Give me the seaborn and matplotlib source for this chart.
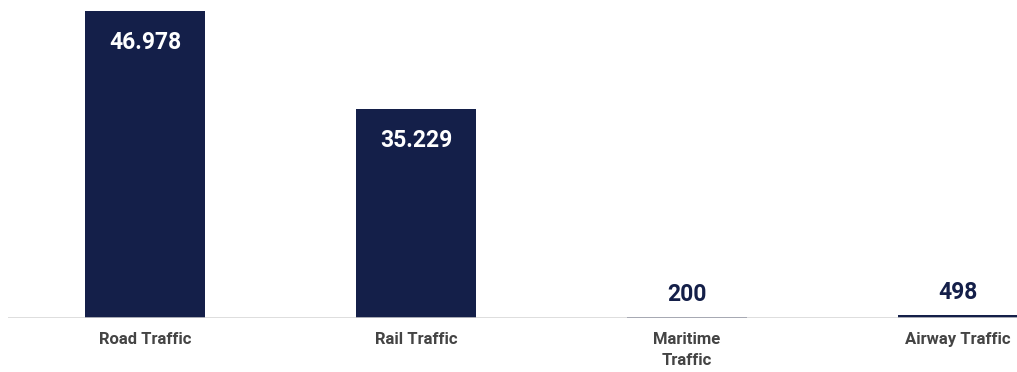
import matplotlib
matplotlib.use("Agg")
import matplotlib.pyplot as plt
import seaborn as sns
import pandas as pd

categories = ["Road Traffic", "Rail Traffic", "Maritime\nTraffic", "Airway Traffic"]
bar_heights = [46978, 32000, 200, 498]
value_labels = ["46.978", "35.229", "200", "498"]

NAVY = "#141f49"
GRAY_TEXT = "#444444"

sns.set_theme(style="white")
plt.rcParams["font.family"] = ["Roboto", "DejaVu Sans"]

df = pd.DataFrame({"cat": categories, "val": bar_heights})

fig = plt.figure(figsize=(10.17, 3.72), dpi=100)
ax = fig.add_axes([8 / 1017, 54 / 372, 1009 / 1017, 318 / 372])
ax.axhline(0, color="#d4d4d4", linewidth=1.1, zorder=3)
sns.barplot(data=df, x="cat", y="val", color=NAVY, saturation=1, width=0.443,
            linewidth=0, ax=ax, zorder=2)

ax.set_xlim(-0.506, 3.218)
ax.set_ylim(0, 48660)
for s in ["top", "right", "left", "bottom"]:
    ax.spines[s].set_visible(False)
ax.set_yticks([])
ax.set_xlabel("")
ax.set_ylabel("")
ax.tick_params(axis="x", length=0, pad=10)
for lbl in ax.get_xticklabels():
    lbl.set_fontweight("bold")
    lbl.set_fontsize(12)
    lbl.set_color(GRAY_TEXT)
    lbl.set_verticalalignment("top")
    lbl.set_linespacing(1.55)

for i, (h, t) in enumerate(zip(bar_heights, value_labels)):
    if h > 5000:
        ax.annotate(t, (i, h), xytext=(0, -32), textcoords="offset pixels",
                    ha="center", va="center", color="white",
                    fontsize=16.5, fontweight="bold")
    else:
        ax.annotate(t, (i, h), xytext=(0, 22), textcoords="offset pixels",
                    ha="center", va="center", color=NAVY,
                    fontsize=16.5, fontweight="bold")

fig.savefig("out.png", dpi=100)
